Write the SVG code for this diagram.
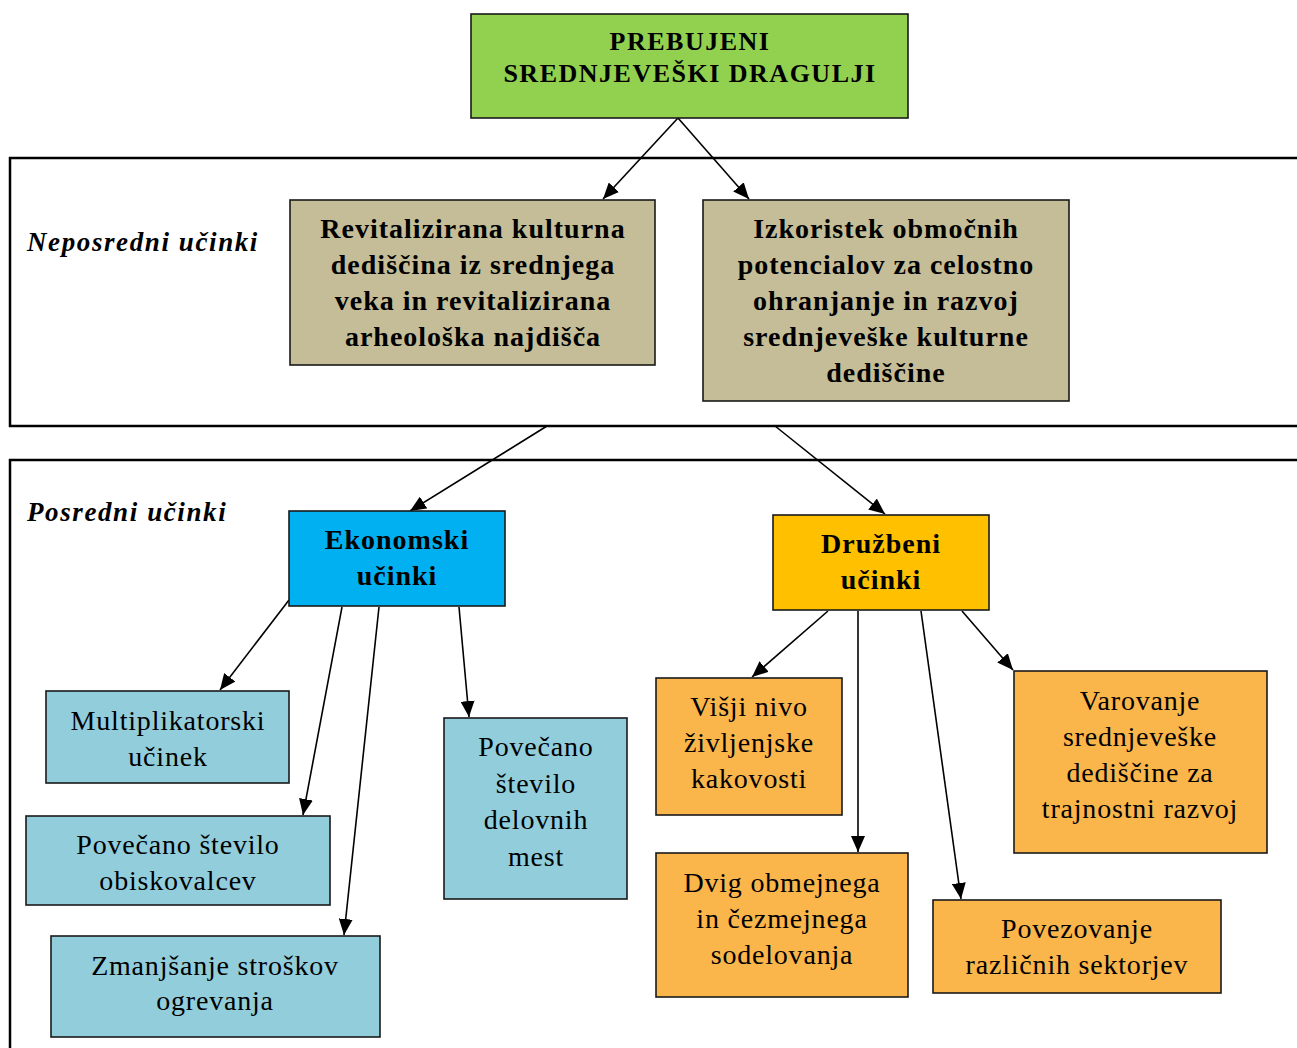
<svg xmlns="http://www.w3.org/2000/svg" width="1297" height="1048" viewBox="0 0 1297 1048">
<style>
.box{stroke:#1a1a1a;stroke-width:1.6}
.frame{fill:none;stroke:#000;stroke-width:2.5}
.t{font-family:"Liberation Serif","Times New Roman",serif;text-anchor:middle;fill:#000}
.n{font-size:28px;letter-spacing:0.8px}
.b{font-size:28px;font-weight:bold;letter-spacing:1px}
.h{font-size:26px;font-weight:bold;letter-spacing:1.5px}
.lab{font-family:"Liberation Serif","Times New Roman",serif;font-size:27px;font-weight:bold;font-style:italic;letter-spacing:1.6px}
.c{stroke:#000;stroke-width:1.6;fill:none;marker-end:url(#ah)}
</style>
<defs>
<marker id="ah" markerUnits="userSpaceOnUse" markerWidth="16" markerHeight="14" viewBox="0 0 16 14" refX="16" refY="7" orient="auto">
<path d="M0,0 L16,7 L0,14 Z" fill="#000"/>
</marker>
</defs>
<rect width="1297" height="1048" fill="#fff"/>
<g id="frames">
<path class="frame" d="M1300,158 H10 V426 H1300"/>
<path class="frame" d="M1300,460 H10 V1050"/>
<text class="lab" x="27" y="251">Neposredni učinki</text>
<text class="lab" x="27" y="521">Posredni učinki</text>
</g>
<g id="connectors">
<line class="c" x1="678" y1="118" x2="603" y2="199"/>
<line class="c" x1="678" y1="118" x2="749" y2="199"/>
<line class="c" x1="547" y1="426" x2="410" y2="511"/>
<line class="c" x1="775" y1="426" x2="885" y2="514"/>
<line class="c" x1="289" y1="600" x2="220" y2="690"/>
<line class="c" x1="342" y1="607" x2="303" y2="815"/>
<line class="c" x1="379" y1="607" x2="344" y2="935"/>
<line class="c" x1="459" y1="607" x2="469" y2="717"/>
<line class="c" x1="828" y1="611" x2="752" y2="677"/>
<line class="c" x1="858" y1="611" x2="858" y2="852"/>
<line class="c" x1="921" y1="611" x2="961" y2="899"/>
<line class="c" x1="962" y1="611" x2="1013" y2="670"/>
</g>
<g id="title">
<rect class="box" x="471" y="14" width="437" height="104" fill="#92D050"/>
<text class="t h" x="690" y="50">PREBUJENI</text>
<text class="t h" x="690" y="82">SREDNJEVEŠKI DRAGULJI</text>
</g>
<g id="revitalizirana">
<rect class="box" x="290" y="200" width="365" height="165" fill="#C4BD97"/>
<text class="t b" x="473" y="238">Revitalizirana kulturna</text>
<text class="t b" x="473" y="274">dediščina iz srednjega</text>
<text class="t b" x="473" y="310">veka in revitalizirana</text>
<text class="t b" x="473" y="346">arheološka najdišča</text>
</g>
<g id="izkoristek">
<rect class="box" x="703" y="200" width="366" height="201" fill="#C4BD97"/>
<text class="t b" x="886" y="238">Izkoristek območnih</text>
<text class="t b" x="886" y="274">potencialov za celostno</text>
<text class="t b" x="886" y="310">ohranjanje in razvoj</text>
<text class="t b" x="886" y="346">srednjeveške kulturne</text>
<text class="t b" x="886" y="382">dediščine</text>
</g>
<g id="ekonomski">
<rect class="box" x="289" y="511" width="216" height="95" fill="#00B0F0"/>
<text class="t b" x="397" y="549">Ekonomski</text>
<text class="t b" x="397" y="585">učinki</text>
</g>
<g id="druzbeni">
<rect class="box" x="773" y="515" width="216" height="95" fill="#FFC000"/>
<text class="t b" x="881" y="553">Družbeni</text>
<text class="t b" x="881" y="589">učinki</text>
</g>
<g id="multiplikatorski">
<rect class="box" x="46" y="691" width="243" height="92" fill="#92CDDC"/>
<text class="t n" x="168" y="730">Multiplikatorski</text>
<text class="t n" x="168" y="766">učinek</text>
</g>
<g id="obiskovalci">
<rect class="box" x="26" y="816" width="304" height="89" fill="#92CDDC"/>
<text class="t n" x="178" y="854">Povečano število</text>
<text class="t n" x="178" y="890">obiskovalcev</text>
</g>
<g id="ogrevanje">
<rect class="box" x="51" y="936" width="329" height="101" fill="#92CDDC"/>
<text class="t n" x="215" y="975">Zmanjšanje stroškov</text>
<text class="t n" x="215" y="1010">ogrevanja</text>
</g>
<g id="delovna-mesta">
<rect class="box" x="444" y="718" width="183" height="181" fill="#92CDDC"/>
<text class="t n" x="536" y="756">Povečano</text>
<text class="t n" x="536" y="793">število</text>
<text class="t n" x="536" y="829">delovnih</text>
<text class="t n" x="536" y="866">mest</text>
</g>
<g id="visji-nivo">
<rect class="box" x="656" y="678" width="186" height="137" fill="#FAB54B"/>
<text class="t n" x="749" y="716">Višji nivo</text>
<text class="t n" x="749" y="752">življenjske</text>
<text class="t n" x="749" y="788">kakovosti</text>
</g>
<g id="dvig">
<rect class="box" x="656" y="853" width="252" height="144" fill="#FAB54B"/>
<text class="t n" x="782" y="892">Dvig obmejnega</text>
<text class="t n" x="782" y="928">in čezmejnega</text>
<text class="t n" x="782" y="964">sodelovanja</text>
</g>
<g id="povezovanje">
<rect class="box" x="933" y="900" width="288" height="93" fill="#FAB54B"/>
<text class="t n" x="1077" y="938">Povezovanje</text>
<text class="t n" x="1077" y="974">različnih sektorjev</text>
</g>
<g id="varovanje">
<rect class="box" x="1014" y="671" width="253" height="182" fill="#FAB54B"/>
<text class="t n" x="1140" y="710">Varovanje</text>
<text class="t n" x="1140" y="746">srednjeveške</text>
<text class="t n" x="1140" y="782">dediščine za</text>
<text class="t n" x="1140" y="818">trajnostni razvoj</text>
</g>
</svg>
